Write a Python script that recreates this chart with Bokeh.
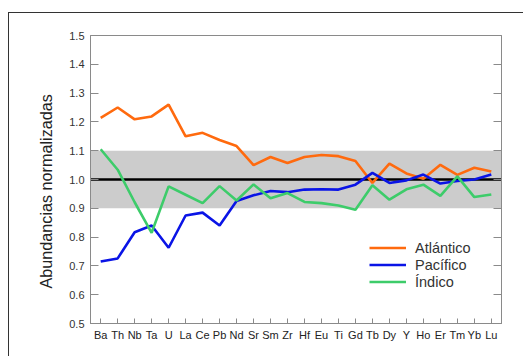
from bokeh.plotting import figure
from bokeh.models import (FactorRange, Range1d, BoxAnnotation, Span, LinearAxis,
                          FixedTicker, PrintfTickFormatter, CustomJSTickFormatter,
                          Legend, LegendItem, Title)
from bokeh.embed import file_html
from bokeh.resources import INLINE

# Normalized abundances per element, one series per ocean
elements = ["Ba", "Th", "Nb", "Ta", "U", "La", "Ce", "Pb", "Nd", "Sr", "Sm", "Zr",
            "Hf", "Eu", "Ti", "Gd", "Tb", "Dy", "Y", "Ho", "Er", "Tm", "Yb", "Lu"]
atlantico = [1.214, 1.250, 1.209, 1.219, 1.260, 1.150, 1.162, 1.137, 1.116, 1.050,
             1.078, 1.057, 1.078, 1.085, 1.081, 1.064, 0.988, 1.055, 1.021, 1.003,
             1.051, 1.016, 1.041, 1.028]
pacifico = [0.715, 0.726, 0.817, 0.840, 0.763, 0.875, 0.885, 0.840, 0.925, 0.945,
            0.960, 0.956, 0.965, 0.966, 0.965, 0.982, 1.023, 0.988, 0.997, 1.017,
            0.986, 0.995, 1.000, 1.017]
indico = [1.105, 1.034, 0.921, 0.815, 0.976, 0.947, 0.918, 0.977, 0.927, 0.983,
          0.935, 0.953, 0.922, 0.918, 0.910, 0.895, 0.980, 0.930, 0.966, 0.982,
          0.943, 1.011, 0.939, 0.948]
series_names = ["Atlántico", "Pacífico", "Índico"]
series_colors = ["#FF6A0E", "#0A14E6", "#3DCC6A"]
y_ticks = [0.5, 0.6, 0.7, 0.8, 0.9, 1.0, 1.1, 1.2, 1.3, 1.4, 1.5]
y_title = "Abundancias normalizadas"
band_low, band_high, reference = 0.9, 1.1, 1.0

FONT = "Liberation Sans"
AXIS_GRAY = "#8a8a8a"

p = figure(width=515, height=344, output_backend="svg", toolbar_location=None,
           x_range=FactorRange(*elements, range_padding=0.1,
                               range_padding_units="absolute"),
           y_range=Range1d(0.5, 1.5),
           min_border_left=81, min_border_right=23, min_border_top=22,
           min_border_bottom=34)
p.margin = (0, 0, 0, 0)
p.styles = {"margin-left": "8px", "margin-top": "12px",
            "border-left": "1px solid #333", "border-top": "1px solid #333"}

p.xgrid.visible = False
p.ygrid.visible = False
p.outline_line_color = AXIS_GRAY
p.outline_line_width = 1
p.background_fill_color = "white"
p.border_fill_color = "white"

# shaded +/-10 % band and the unit reference line
p.add_layout(BoxAnnotation(bottom=band_low, top=band_high, fill_color="#cccccc",
                           fill_alpha=1.0, line_color=None, level="underlay"))
p.add_layout(Span(location=reference, dimension="width", line_color="black",
                  line_width=2.5, level="underlay"))

renderers = []
for name, vals, col in zip(series_names, [atlantico, pacifico, indico], series_colors):
    r = p.line(elements, vals, line_color=col, line_width=2.6)
    renderers.append((name, r))

# left axis
ya = p.yaxis[0]
ya.ticker = FixedTicker(ticks=y_ticks)
ya.formatter = PrintfTickFormatter(format="%.1f")
ya.major_tick_in = 8
ya.major_tick_out = 0
ya.minor_tick_line_color = None
ya.axis_line_color = AXIS_GRAY
ya.major_tick_line_color = AXIS_GRAY
ya.major_label_text_font = FONT
ya.major_label_text_font_size = "11px"
ya.major_label_text_color = "#333333"
ya.major_label_standoff = 6

# vertical axis title, set a little below the frame's middle
p.add_layout(Title(text=y_title, align="left", offset=35, standoff=23,
                   text_font=FONT, text_font_size="16.2px",
                   text_font_style="normal", text_color="#222222"), "left")

# right axis: ticks only
ra = LinearAxis(ticker=FixedTicker(ticks=y_ticks),
                formatter=CustomJSTickFormatter(code="return ''"))
ra.major_tick_in = 8
ra.major_tick_out = 0
ra.minor_tick_line_color = None
ra.axis_line_color = AXIS_GRAY
ra.major_tick_line_color = AXIS_GRAY
ra.major_label_text_font_size = "1px"
ra.major_label_standoff = 0
p.add_layout(ra, "right")

# bottom category axis
xa = p.xaxis[0]
xa.major_tick_in = 5
xa.major_tick_out = 0
xa.axis_line_color = AXIS_GRAY
xa.major_tick_line_color = AXIS_GRAY
xa.major_label_text_font = FONT
xa.major_label_text_font_size = "11px"
xa.major_label_text_color = "#222222"
xa.major_label_standoff = 5
xa.major_label_orientation = "horizontal"

legend = Legend(items=[LegendItem(label=n, renderers=[r]) for n, r in renderers],
                location=(279, 33), orientation="vertical",
                glyph_width=37, glyph_height=17, label_height=17,
                label_standoff=9, spacing=0, padding=0, margin=0,
                border_line_color=None, background_fill_alpha=0,
                label_text_font=FONT, label_text_font_size="14.5px",
                label_text_color="#333333")
p.add_layout(legend)

open("out.html", "w").write(file_html(p, INLINE))
